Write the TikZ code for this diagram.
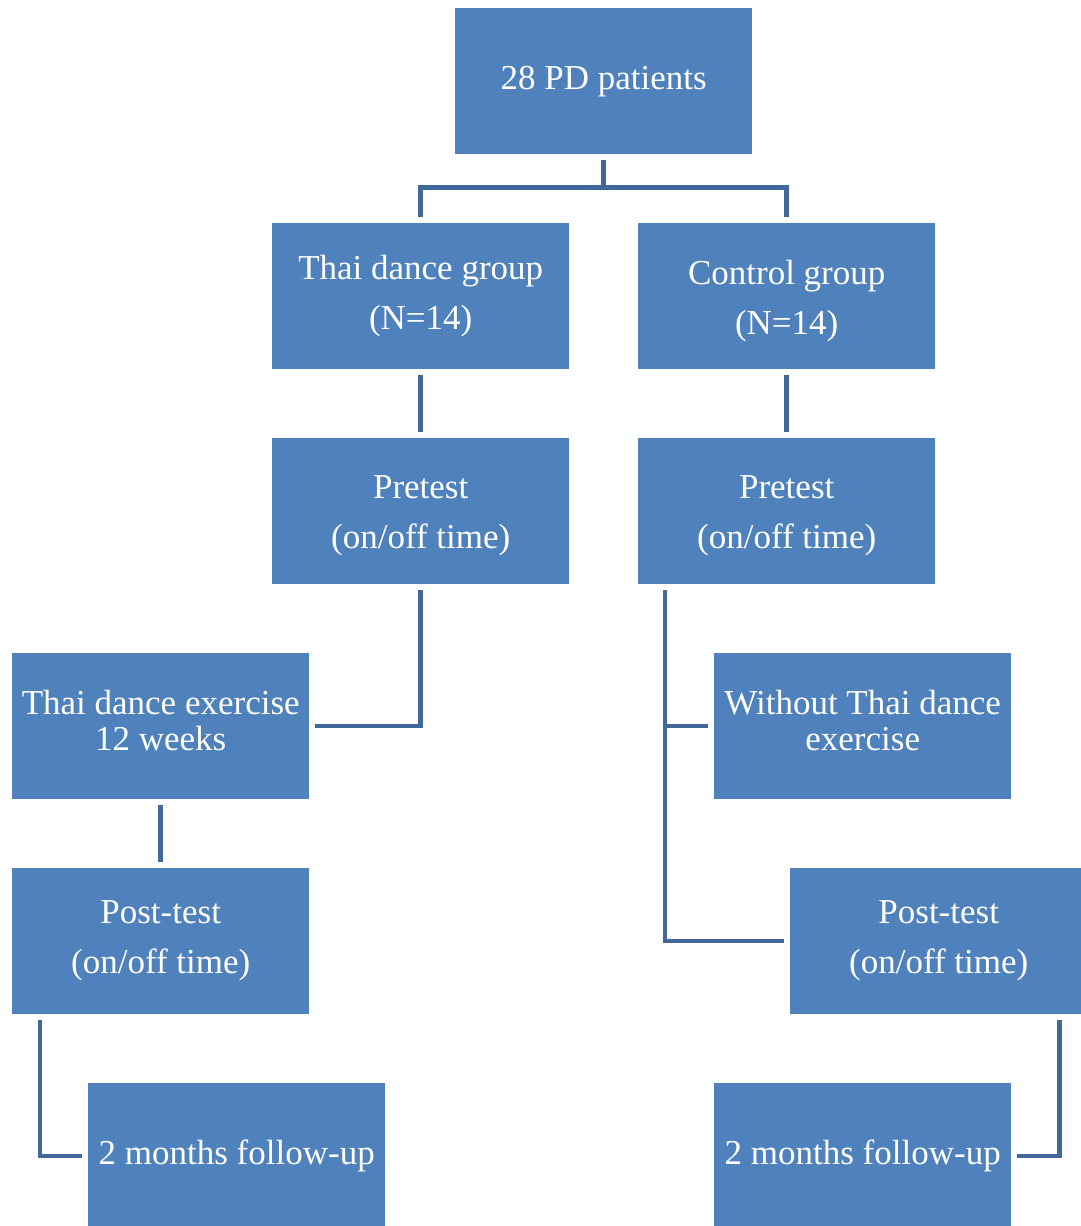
\documentclass[tikz,border=0pt]{standalone}
\usepackage{fontspec}
\setmainfont{Liberation Serif}
\definecolor{boxblue}{HTML}{4F81BD}
\definecolor{linkblue}{HTML}{42689B}
% invisible struts that nudge a text block inside its box
\newcommand{\padbelow}[1]{\rule[-#1]{0pt}{#1}}
\newcommand{\padabove}[1]{\rule{0pt}{#1}}
\begin{document}
\begin{tikzpicture}[x=1pt,y=-1pt,
  stage/.style={fill=boxblue, text=white, minimum width=297pt, minimum height=146pt,
    inner sep=0pt, anchor=north west, align=center,
    font=\fontsize{35}{50}\selectfont},
  link/.style={draw=linkblue, line width=4.5pt, shorten <=6pt, shorten >=6pt}]
\useasboundingbox (0,0) rectangle (1081,1226);
\clip (0,0) rectangle (1081,1226);

% boxes
\node[stage] (top) at (455,8) {28 PD patients};
\node[stage] (g1) at (272,223) {Thai dance group\\(N=14)};
\node[stage] (g2) at (638,223) {\padabove{34pt}Control group\\(N=14)};
\node[stage] (p1) at (272,438) {\padabove{32pt}Pretest\\(on/off time)};
\node[stage] (p2) at (638,438) {\padabove{32pt}Pretest\\(on/off time)};
\node[stage, font=\fontsize{35}{36}\selectfont] (ex) at (12,653) {Thai dance exercise\\12 weeks\padbelow{12pt}};
\node[stage, font=\fontsize{35}{36}\selectfont] (wo) at (714,653) {Without Thai dance\\exercise\padbelow{12pt}};
\node[stage] (po1) at (12,868) {Post-test\\(on/off time)};
\node[stage] (po2) at (790,868) {Post-test\\(on/off time)};
\node[stage] (fu1) at (88,1083) {2 months follow-up};
\node[stage] (fu2) at (714,1083) {2 months follow-up};

% connectors
\draw[link] (top.south) -- ++(0,33) -| (g1.north);
\draw[link] (top.south) -- ++(0,33) -| (g2.north);
\draw[link] (g1) -- (p1);
\draw[link] (g2) -- (p2);
\draw[link] (p1.south) |- (ex.east);
\coordinate (p2foot) at ([xshift=27pt]p2.south west);
\draw[link] (p2foot) |- (po2.west);
\draw[link, shorten <=0pt] (p2foot |- wo.west) -- (wo.west);
\draw[link] (ex) -- (po1);
\coordinate (po1foot) at ([xshift=28pt]po1.south west);
\draw[link] (po1foot) |- (fu1.west);
\coordinate (po2foot) at ([xshift=-28pt]po2.south east);
\draw[link] (po2foot) |- (fu2.east);
\end{tikzpicture}
\end{document}
